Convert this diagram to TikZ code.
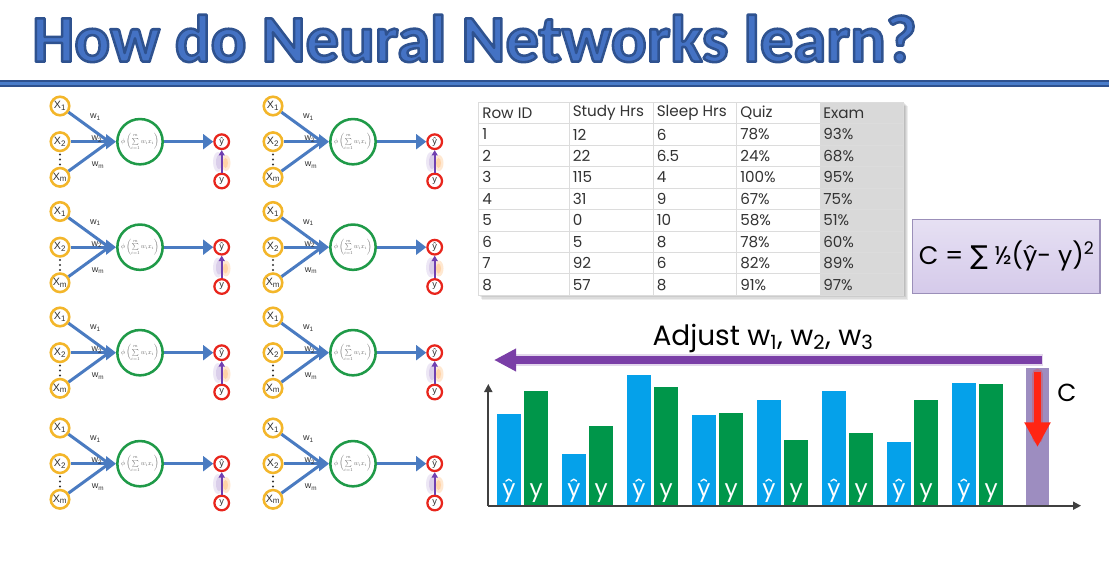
\documentclass[tikz,border=0pt]{standalone}
\usepackage{fontspec}
\usepackage{graphicx}
\setmainfont{Poppins}
\newfontfamily\titlefont{Carlito}
\newfontfamily\labelfont{Liberation Sans}
\newfontfamily\symbolfont{DejaVu Sans}
\usetikzlibrary{arrows.meta}

\definecolor{titleblue}{HTML}{4472C4}
\definecolor{titledark}{HTML}{2F528F}
\definecolor{rulelight}{HTML}{4A7DCA}
\definecolor{xgold}{HTML}{F3B62A}
\definecolor{ngreen}{HTML}{1F9A48}
\definecolor{yred}{HTML}{E8251C}
\definecolor{linkblue}{HTML}{4A7BC1}
\definecolor{txtgrey}{HTML}{333333}
\definecolor{fbgrey}{HTML}{6A6A6A}
\definecolor{fbpurple}{HTML}{7040B0}
\definecolor{barblue}{HTML}{05A1EA}
\definecolor{bargreen}{HTML}{00964A}
\definecolor{costbar}{HTML}{9D8DC0}
\definecolor{adjpurple}{HTML}{7A3EA7}
\definecolor{cred}{HTML}{FF2514}
\definecolor{colgrey}{HTML}{D9D9D9}
\definecolor{gridgrey}{HTML}{DCDCDC}
\definecolor{costtop}{HTML}{E6E0F3}
\definecolor{costbot}{HTML}{D5CAEA}
\definecolor{costedge}{HTML}{9B8FB9}
\definecolor{axisgrey}{HTML}{404040}

\tikzset{
  xin/.style={circle, draw=xgold, line width=1.9pt, fill=white, minimum size=13.9pt,
    inner sep=0pt, text=txtgrey, font=\labelfont\fontsize{8}{8}\selectfont},
  neuron/.style={circle, draw=ngreen, line width=1.9pt, fill=white, minimum size=34pt,
    inner sep=0pt, text=fbgrey},
  outnode/.style={circle, draw=yred, line width=1.7pt, fill=white, minimum size=11pt,
    inner sep=0pt, text=txtgrey, font=\labelfont\fontsize{7}{7}\selectfont},
  wlabel/.style={inner sep=0pt, text=txtgrey, font=\labelfont\fontsize{6.8}{6.8}\selectfont},
  link/.style={draw=linkblue, line width=2.25pt},
  linkarrow/.style={link, -{Triangle[length=7.5pt,width=11pt]}},
  fbarrow/.style={draw=fbpurple, line width=1.3pt, -{Triangle[length=4pt,width=4.5pt]}},
  cell/.style={anchor=west, inner sep=0pt, text=txtgrey, font=\fontsize{11.4}{11.4}\selectfont},
  barlabel/.style={anchor=base, inner sep=0pt, text=white, font=\fontsize{17.5}{17.5}\selectfont},
  axis/.style={draw=axisgrey, line width=1.3pt, -{Triangle[length=6pt,width=6pt]}},
  titlecopy/.style={anchor=base west, inner sep=0pt},
}

% title set in blue with a darker stroked outline (text render mode 2)
\newcommand\titletext{\resizebox{663pt}{35.2pt}{\titlefont\bfseries
  \special{pdf:literal direct 0.184 0.322 0.561 RG 0.38 w 1 j 2 Tr}%
  How do Neural Networks learn?%
  \special{pdf:literal direct 0 Tr}}}

% one perceptron: inputs, weighted links, neuron, output and target
\newcommand\nnunit[3]{%
  \begin{scope}[shift={(#2,#3)}]
    \node[xin] (#1x1) at (0,0) {X\textsubscript{1}};
    \node[xin] (#1x2) at (0,35.7) {X\textsubscript{2}};
    \node[xin] (#1xm) at (0,71.3) {X\textsubscript{m}};
    \foreach \d in {48.5,53.5,58.5} \fill[txtgrey] (0,\d) circle[radius=1.2];
    \node[neuron] (#1n) at (80,35.7)
      {\scalebox{0.5}{$\phi\left(\sum\limits_{i=1}^{m} w_i x_i\right)$}};
    \coordinate (#1in) at (49,35.7);
    \node[outnode] (#1yh) at (161.7,35.7) {\^{y}};
    \node[outnode] (#1y) at (161.7,75) {y};
    \path[link] (#1x1) -- (#1in);
    \path[link] (#1xm) -- (#1in);
    \path[linkarrow] (#1x2) -- (#1n.west);
    \path[linkarrow] (#1n) -- (#1yh);
    \node[wlabel] (#1w1) at (35.5,11) {w\textsubscript{1}};
    \node[wlabel] (#1w2) at (37,33) {w\textsubscript{2}};
    \node[wlabel] (#1wm) at (38,59) {w\textsubscript{m}};
    % soft glow beside the feedback arrow
    \fill[fbpurple, opacity=0.12] (158,56) ellipse[x radius=5, y radius=10];
    \fill[fbpurple, opacity=0.15] (159,56) ellipse[x radius=3, y radius=7];
    \fill[orange, opacity=0.18] (166,57) ellipse[x radius=4.5, y radius=8];
    \fill[orange, opacity=0.2] (165.5,57) ellipse[x radius=2.5, y radius=5];
    \path[fbarrow] (#1y) -- (#1yh);
  \end{scope}}

\begin{document}
\begin{tikzpicture}[x=0.75pt, y=-0.75pt]
  \useasboundingbox (0,0) rectangle (1109,581);
  \fill[white] (0,0) rectangle (1109,581);

  % title
  \node[titlecopy, text=titleblue] (title) at (32,61.7) {\titletext};

  % rule under the title
  \fill[titledark] (0,80) rectangle (1109,86.7);
  \fill[rulelight] (0,81.6) rectangle (1109,85);

  % grid of perceptrons
  \foreach \c/\cx in {a/60,b/273} {
    \foreach \r/\ry in {1/106,2/211.5,3/317,4/428} {
      \nnunit{\c\r}{\cx}{\ry}
    }
  }

  % data table
  \foreach \k in {1,...,4}
    \fill[black, opacity=0.07] (478.3+\k,102.3+\k) rectangle (903.3+1.2*\k,295+1.2*\k);
  \fill[white] (478.3,102.3) rectangle (820,295);
  \fill[colgrey] (820,102.3) rectangle (903.3,295);
  \foreach \yy in {123.7,145.2,166.6,188.1,209.5,231,252.4,273.9}
    \draw[gridgrey, line width=0.75pt] (478.3,\yy) -- (903.3,\yy);
  \foreach \xx in {569.3,653.3,736.7}
    \draw[gridgrey, line width=0.75pt] (\xx,102.3) -- (\xx,295);
  \draw[gridgrey, line width=0.75pt] (478.3,102.3) rectangle (903.3,295);
  \foreach \r/\a/\b/\s/\e [count=\i from 0] in {
      Row ID/Study Hrs/Sleep Hrs/Quiz/Exam,
      1/12/6/78\%/93\%,
      2/22/6.5/24\%/68\%,
      3/115/4/100\%/95\%,
      4/31/9/67\%/75\%,
      5/0/10/58\%/51\%,
      6/5/8/78\%/60\%,
      7/92/6/82\%/89\%,
      8/57/8/91\%/97\%} {
    \pgfmathsetmacro\cy{102.3+21.45*(\i+0.5)}
    \node[cell] (t\i a) at (482,\cy) {\r};
    \node[cell] (t\i b) at (572.5,\cy) {\a};
    \node[cell] (t\i c) at (656.5,\cy) {\b};
    \node[cell] (t\i d) at (740,\cy) {\s};
    \node[cell] (t\i e) at (823,\cy) {\e};
  }

  % cost function box
  \node[draw=costedge, line width=0.9pt, top color=costtop, bottom color=costbot,
        minimum width=140.5pt, minimum height=55.5pt, inner sep=0pt,
        font=\fontsize{19}{19}\selectfont, text=black] (cost) at (1006.4,256.3)
    {C = {\symbolfont\fontsize{19.5}{19.5}\selectfont∑} ½(\^{y}- y)\raisebox{0.4em}{\fontsize{13}{13}\selectfont 2}};

  % bar chart of predictions and actual values
  \foreach \k/\b/\g in {0/414/390.7, 1/454.3/426, 2/374.7/387.3, 3/415.3/413,
                        4/400/440, 5/390.7/433.3, 6/442.3/400, 7/383.3/384.3} {
    \pgfmathsetmacro\bx{496.7+65*\k}
    \pgfmathsetmacro\gx{524.3+65*\k}
    \fill[barblue] (\bx,\b) rectangle ++(24.3,505.7-\b);
    \fill[bargreen] (\gx,\g) rectangle ++(24,505.7-\g);
    \node[barlabel] (yh\k) at (\bx+12.2,496) {\^{y}};
    \node[barlabel] (yv\k) at (\gx+12,496) {y};
  }
  \fill[costbar] (1025.7,368.3) rectangle (1049.3,505.7);

  \coordinate (orig) at (488.3,505.7);
  \coordinate (ytop) at (488.3,384);
  \coordinate (xend) at (1081,505.7);
  \path[axis] (orig) -- (ytop);
  \path[axis] (orig) -- (xend);

  % cost arrow
  \coordinate (ctop) at (1037.5,371.7);
  \coordinate (cbot) at (1037.5,447);
  \draw[cred, opacity=0.25, line width=8pt, line cap=round] (1037.5,374) -- (1037.5,438);
  \path[draw=cred, line width=5.2pt, -{Triangle[length=18.5pt,width=18.5pt]}] (ctop) -- (cbot);
  \node[inner sep=0pt, font=\fontsize{18.5}{18.5}\selectfont] (clabel) at (1067,393) {C};

  % back-propagation arrow
  \coordinate (adjS) at (1042,360);
  \coordinate (adjE) at (494,360);
  \draw[adjpurple!45, opacity=0.45, line width=9.5pt] (1043,360) -- (512,360);
  \path[draw=adjpurple, line width=6pt, -{Triangle[length=16.5pt,width=16pt]}] (adjS) -- (adjE);
  \node[anchor=base, inner sep=0pt, font=\fontsize{21}{21}\selectfont] (adjust)
    at (763,345) {Adjust w\textsubscript{1}, w\textsubscript{2}, w\textsubscript{3}};
\end{tikzpicture}
\end{document}
